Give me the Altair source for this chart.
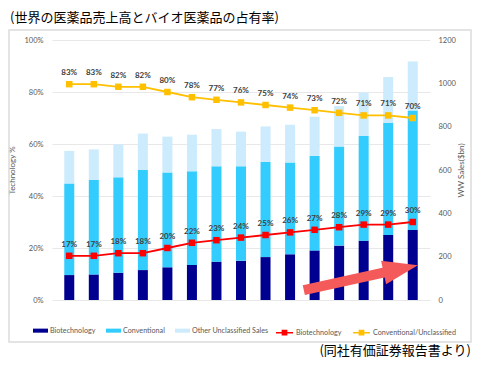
import altair as alt
import pandas as pd

# ---- data ----
years = list(range(2008, 2023))
biotech_sales = [115, 118, 126, 138, 151, 162, 177, 181, 198, 211, 229, 251, 274, 300, 323]
conventional_sales = [423, 436, 440, 462, 438, 432, 440, 436, 439, 424, 436, 457, 484, 518, 552]
other_sales = [150, 141, 152, 168, 165, 169, 172, 160, 164, 174, 181, 187, 200, 211, 226]
biotech_share = [17, 17, 18, 18, 20, 22, 23, 24, 25, 26, 27, 28, 29, 29, 30]
conv_share = [83, 83, 82, 82, 80, 78, 77, 76, 75, 74, 73, 72, 71, 71, 70]

bar_series = ["Biotechnology", "Conventional", "Other Unclassified Sales"]
bar_colors = ["#000090", "#33CCFF", "#CCEBFC"]
line_series = ["Biotechnology", "Conventional/Unclassified"]
line_colors = ["#FF0000", "#FFC000"]

# decorative arrow (in data units: year, $bn)
arrow_years = [2017.56, 2020.99]
arrow_sales = [46, 131]
arrow_head_year = [2021.51]
arrow_head_sales = [144]

title_text = "(世界の医薬品売上高とバイオ医薬品の占有率)"
source_text = "(同社有価証券報告書より)"

pct_ticks = [0, 20, 40, 60, 80, 100]
sales_ticks = [0, 200, 400, 600, 800, 1000, 1200]

# ---- tables ----
rows = []
for i, yr in enumerate(years):
    base = 0
    for order, (s, vals) in enumerate(zip(bar_series, [biotech_sales, conventional_sales, other_sales])):
        rows.append({"year": yr, "bar_series": s, "lo": base, "hi": base + vals[i], "ord": order})
        base += vals[i]
bars_df = pd.DataFrame(rows)

lrows = []
for s, vals in zip(line_series, [biotech_share, conv_share]):
    for yr, v in zip(years, vals):
        lrows.append({"year": yr, "line_series": s, "pct": v, "label": f"{v}%"})
lines_df = pd.DataFrame(lrows)

arrow_df = pd.DataFrame({"year": arrow_years, "sales": arrow_sales})
head_df = pd.DataFrame({"year": arrow_head_year, "sales": arrow_head_sales})

FONT = "Lato"
GRAY = "#595959"

def xs():
    return alt.Scale(domain=[2007.5, 2022.5], nice=False, zero=False)

def sales_scale():
    return alt.Scale(domain=[0, 1200], nice=False, zero=True)

def pct_scale():
    return alt.Scale(domain=[0, 100], nice=False, zero=True)

x_axis = alt.Axis(values=years, format="d", grid=False, domain=False, ticks=False,
                  labelPadding=9, title=None, labelFlush=False)

bars = alt.Chart(bars_df).mark_bar(size=10).encode(
    x=alt.X("year:Q", scale=xs(), axis=x_axis),
    y=alt.Y("lo:Q", scale=sales_scale(),
            axis=alt.Axis(orient="right", values=sales_ticks, format="d", grid=False, domain=False,
                          ticks=False, labelPadding=8, title="WW Sales($bn)", titleAngle=270,
                          titlePadding=10)),
    y2="hi:Q",
    color=alt.Color("bar_series:N", scale=alt.Scale(domain=bar_series, range=bar_colors),
                    legend=alt.Legend(orient="none", legendX=-19, legendY=283, direction="horizontal",
                                      title=None, symbolType="M-1,-0.27L1,-0.27L1,0.27L-1,0.27Z",
                                      symbolSize=225, symbolStrokeWidth=0, labelOffset=2,
                                      columnPadding=10, padding=0, labelFontSize=7.2,
                                      labelColor=GRAY, labelFont=FONT)),
    order=alt.Order("ord:Q"),
)

arrow_body = alt.Chart(arrow_df).mark_line(color="#F55A5A", strokeWidth=10, strokeCap="butt").encode(
    x=alt.X("year:Q", scale=xs(), axis=None),
    y=alt.Y("sales:Q", scale=sales_scale(), axis=None),
)
arrow_head = alt.Chart(head_df).mark_point(
    shape="M1,0L-1,-0.69L-1,0.69Z", filled=True, color="#F55A5A", opacity=1, size=1225, angle=348
).encode(
    x=alt.X("year:Q", scale=xs(), axis=None),
    y=alt.Y("sales:Q", scale=sales_scale(), axis=None),
)

line_legend = alt.Legend(orient="none", legendX=223, legendY=283, direction="horizontal",
                         title=None,
                         symbolType="M-1,0L1,0M-0.25,-0.25L0.25,-0.25L0.25,0.25L-0.25,0.25Z",
                         symbolSize=289, symbolStrokeWidth=1.5, labelOffset=2,
                         columnPadding=8, padding=0, labelFontSize=7.2,
                         labelColor=GRAY, labelFont=FONT)
line_scale = alt.Scale(domain=line_series, range=line_colors)

line = alt.Chart(lines_df).mark_line(strokeWidth=1.8).encode(
    x=alt.X("year:Q", scale=xs(), axis=None),
    y=alt.Y("pct:Q", scale=pct_scale(),
            axis=alt.Axis(orient="left", values=pct_ticks, labelExpr="datum.value + '%'",
                          grid=True, gridColor="#e8e8e8", domain=False, ticks=False,
                          labelPadding=9, title="Technology %", titlePadding=7)),
    stroke=alt.Stroke("line_series:N", scale=line_scale, legend=line_legend),
)
points = alt.Chart(lines_df).mark_point(shape="square", filled=True, size=42, opacity=1).encode(
    x=alt.X("year:Q", scale=xs(), axis=None),
    y=alt.Y("pct:Q", scale=pct_scale(), axis=None),
    fill=alt.Fill("line_series:N", scale=line_scale, legend=line_legend),
)
labels = alt.Chart(lines_df).mark_text(dy=-11, fontSize=8, fontWeight="bold", font=FONT, color="#404040").encode(
    x=alt.X("year:Q", scale=xs(), axis=None),
    y=alt.Y("pct:Q", scale=pct_scale(), axis=None),
    text="label:N",
)

one = alt.Data(values=[{}])
frame = alt.Chart(one).mark_rect(fillOpacity=0, stroke="#dcdcdc", strokeWidth=1.5).encode(
    x=alt.value(-43), x2=alt.value(419), y=alt.value(-10), y2=alt.value(302)
)
title_mark = alt.Chart(one).mark_text(align="left", baseline="middle", fontSize=13,
                                      font="Noto Sans CJK JP", color="#000000").encode(
    x=alt.value(-42), y=alt.value(-22), text=alt.value(title_text)
)
source_mark = alt.Chart(one).mark_text(align="right", baseline="middle", fontSize=13,
                                       font="Noto Sans CJK JP", color="#000000").encode(
    x=alt.value(419), y=alt.value(311), text=alt.value(source_text)
)

chart = alt.layer(
    frame, bars, arrow_body, arrow_head, line, points, labels, title_mark, source_mark
).resolve_scale(
    y="independent"
).properties(
    width=378, height=260,
    autosize=alt.AutoSizeParams(type="none"),
    padding={"left": 44, "top": 32, "right": 42, "bottom": 59},
    background="white",
).configure_view(stroke=None).configure_axis(
    labelFont=FONT, labelFontSize=7.5, labelColor=GRAY,
    titleFont=FONT, titleFontSize=8, titleColor=GRAY, titleFontWeight="normal",
)

chart.save("out.html", embed_options={"renderer": "svg", "actions": False})
